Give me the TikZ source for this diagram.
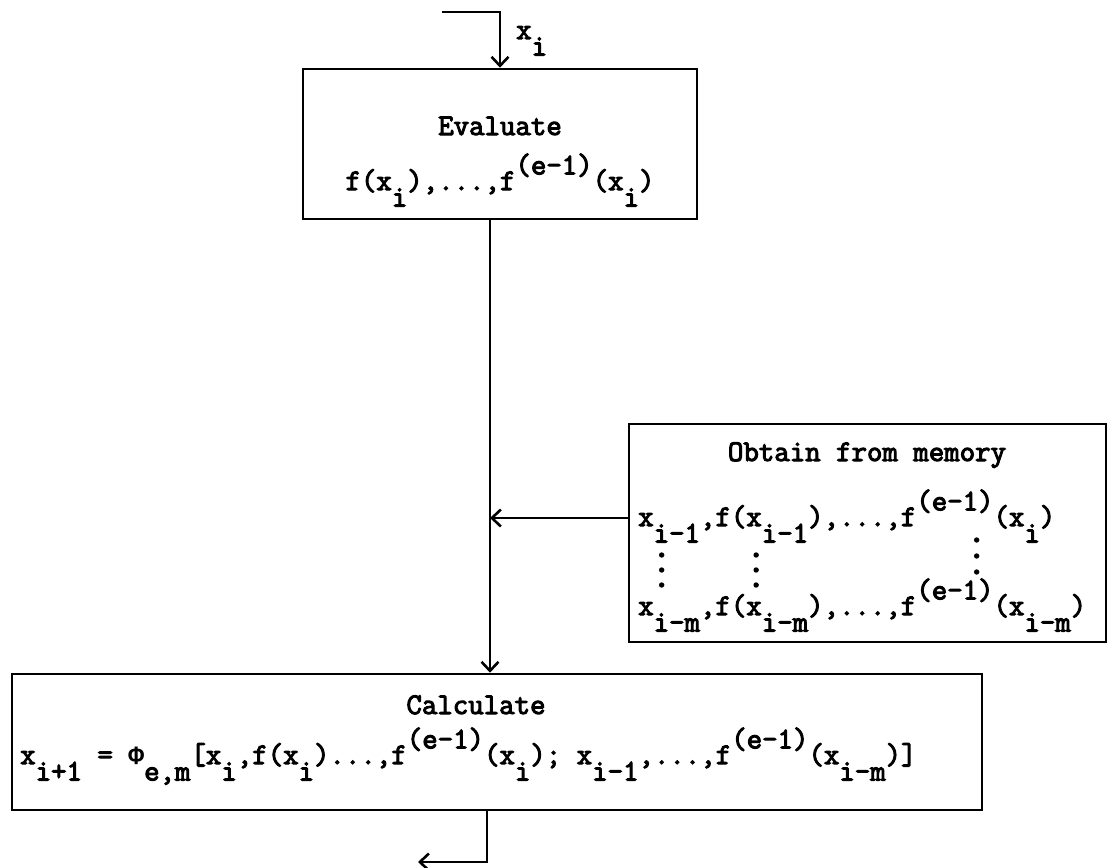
\documentclass[tikz,border=0pt]{standalone}
\usepackage{fontspec}
\newfontfamily\tw{Latin Modern Mono}[BoldFont={Latin Modern Mono}, BoldFeatures={FakeBold=3.5}]
\newfontfamily\twg{Liberation Mono}
\usetikzlibrary{arrows.meta,calc}
\newcommand{\dn}[1]{\raisebox{-0.55em}{#1}}
\newcommand{\up}[1]{\raisebox{0.52em}{#1}}
\tikzset{
  box/.style={draw, line width=2.6pt, inner sep=0pt},
  txt/.style={font=\tw\bfseries\fontsize{30}{34}\selectfont, inner sep=0pt},
  arr/.style={line width=2.6pt, -{Straight Barb[length=9pt,width=17pt,line width=2.6pt]}},
  vdot/.style={fill=black}
}
\begin{document}
\begin{tikzpicture}[x=1pt,y=-1pt]
\useasboundingbox (0,0) rectangle (1113,867);
% boxes
\node[box, minimum width=394pt, minimum height=150pt] (eval) at (500,144) {};
\node[box, minimum width=477pt, minimum height=218pt] (mem) at (867.5,533) {};
\node[box, minimum width=970pt, minimum height=136pt] (calc) at (497,742) {};
% texts
\node[txt, anchor=base west] (xl) at (516,39) {x\dn{i}};
\node[txt, anchor=base] (evt) at (500,135) {Evaluate};
\node[txt, anchor=base] (evf) at (500,190) {f(x\dn{i}),...,f\up{(e-1)}(x\dn{i})};
\node[txt, anchor=base] (mt) at (867,461) {Obtain from memory};
\node[txt, anchor=base west] (r1) at (638,526) {x\dn{i-1},f(x\dn{i-1}),...,f\up{(e-1)}(x\dn{i})};
\node[txt, anchor=base west] (r2) at (638,615) {x\dn{i-m},f(x\dn{i-m}),...,f\up{(e-1)}(x\dn{i-m})};
\foreach \k in {1,7} \foreach \d in {0,1,2}
  \fill[vdot] ($(r1.base west)+(\k*15.75+7.9, 29+\d*15)$) circle (2.7);
\foreach \d in {0,1,2}
  \fill[vdot] ($(r1.base west)+(21*15.75+7.9, 14+\d*16)$) circle (2.7);
\node[txt, anchor=base] (ct) at (476,714) {Calculate};
\node[txt, anchor=base west] (cf) at (20,764) {x\dn{i+1} = {\twg\bfseries\fontsize{26.3}{30}\selectfont Φ}\dn{e,m}[x\dn{i},f(x\dn{i})...,f\up{(e-1)}(x\dn{i}); x\dn{i-1},...,f\up{(e-1)}(x\dn{i-m})]};
% connectors
\coordinate (in) at (442,12);
\coordinate (mx) at (490,0);
\coordinate (my) at (0,518);
\coordinate (ox) at (487,0);
\coordinate (out) at (418,862);
\draw[arr] (in) -| (eval.north);
\draw[arr] (eval.south -| mx) -- (calc.north -| mx);
\draw[arr] (mem.west |- my) -- (mx |- my);
\draw[arr] (calc.south -| ox) |- (out);
\end{tikzpicture}
\end{document}
